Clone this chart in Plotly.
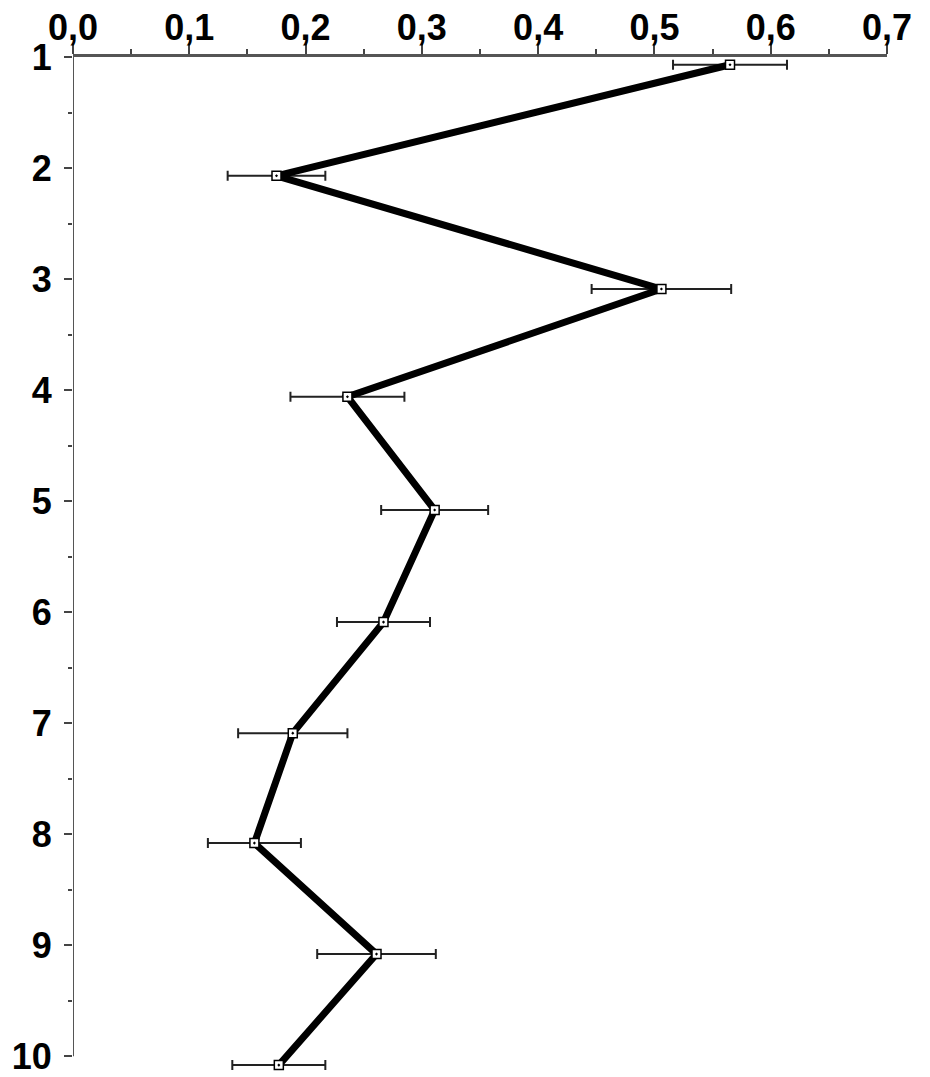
import plotly.graph_objects as go

# Layer index shown on the vertical axis
layer_ticks = [1, 2, 3, 4, 5, 6, 7, 8, 9, 10]
layer_labels = ["1", "2", "3", "4", "5", "6", "7", "8", "9", "10"]

# Vertical position of each measurement (slightly below its layer tick)
depth = [1.07, 2.07, 3.09, 4.06, 5.08, 6.09, 7.09, 8.08, 9.08, 10.08]

# Measured value and its +/- error for each layer
values = [0.565, 0.175, 0.506, 0.236, 0.311, 0.267, 0.189, 0.156, 0.261, 0.177]
errors = [0.049, 0.042, 0.060, 0.049, 0.046, 0.040, 0.047, 0.040, 0.051, 0.040]

# Horizontal axis ticks
x_ticks = [0.0, 0.1, 0.2, 0.3, 0.4, 0.5, 0.6, 0.7]

label_font = dict(family="Liberation Sans, Arial, sans-serif", size=36,
                  color="black", weight="bold")
axis_grey = "#555555"
tick_grey = "#444444"

fig = go.Figure()
fig.add_trace(go.Scatter(
    x=values,
    y=depth,
    mode="lines+markers",
    line=dict(color="black", width=7),
    marker=dict(symbol="square-dot", size=9, color="white",
                line=dict(color="black", width=1.5)),
    error_x=dict(type="data", array=errors, color="#222222",
                 thickness=2, width=5),
    cliponaxis=False,
    showlegend=False,
))

# The vertical axis line runs only from the first to the last layer tick
fig.add_shape(type="line", xref="x", yref="y",
              x0=x_ticks[0], x1=x_ticks[0],
              y0=layer_ticks[0], y1=layer_ticks[-1],
              line=dict(color=axis_grey, width=2), layer="above")

fig.update_layout(
    width=930,
    height=1077,
    margin=dict(l=73, r=43, t=57, b=3),
    paper_bgcolor="white",
    plot_bgcolor="white",
    separators=",.",
    xaxis=dict(
        side="top",
        range=[0, 0.7],
        tickvals=x_ticks,
        tickformat=".1f",
        ticks="outside",
        ticklen=10,
        tickwidth=2,
        tickcolor=tick_grey,
        minor=dict(dtick=0.05, tick0=0, ticks="outside", ticklen=5,
                   tickwidth=2, tickcolor=tick_grey),
        showline=True,
        linecolor=axis_grey,
        linewidth=3,
        showgrid=False,
        zeroline=False,
        tickfont=label_font,
        ticklabelstandoff=-10,
        automargin=False,
    ),
    yaxis=dict(
        range=[10.16, 1],
        tickvals=layer_ticks,
        ticktext=layer_labels,
        ticks="outside",
        ticklen=8,
        tickwidth=2,
        tickcolor=tick_grey,
        minor=dict(tickvals=[1.5, 2.5, 3.5, 4.5, 5.5, 6.5, 7.5, 8.5, 9.5],
                   ticks="outside", ticklen=4,
                   tickwidth=2, tickcolor=tick_grey),
        showline=False,
        showgrid=False,
        zeroline=False,
        tickfont=label_font,
        ticklabelstandoff=5,
        automargin=False,
    ),
)

fig.write_html("out.html")
